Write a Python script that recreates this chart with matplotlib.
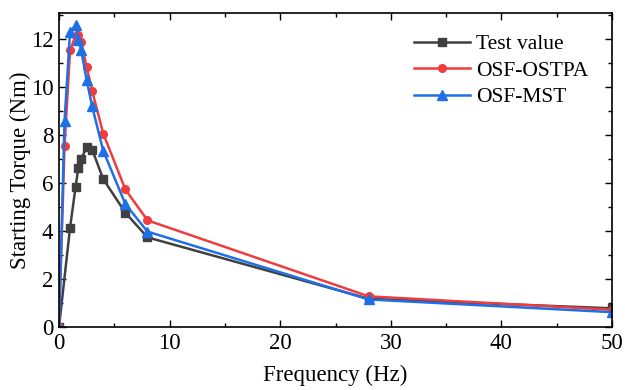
import matplotlib
matplotlib.use('Agg')
import matplotlib.pyplot as plt
from matplotlib.ticker import MultipleLocator

plt.rcParams['font.family'] = ['Liberation Serif', 'DejaVu Serif']
plt.rcParams['mathtext.fontset'] = 'stix'

# data
freq_test = [0, 1, 1.5, 1.75, 2, 2.5, 3, 4, 6, 8, 28, 50]
torque_test = [0, 4.14, 5.85, 6.64, 6.99, 7.51, 7.40, 6.17, 4.77, 3.74, 1.18, 0.78]

freq_sim = [0, 0.5, 1, 1.5, 1.75, 2, 2.5, 3, 4, 6, 8, 28, 50]
torque_ostpa = [0, 7.55, 11.54, 12.15, 12.2, 11.9, 10.85, 9.85, 8.07, 5.74, 4.45, 1.28, 0.72]
torque_mst = [0, 8.58, 12.32, 12.58, 11.98, 11.56, 10.3, 9.2, 7.35, 5.13, 3.98, 1.15, 0.62]

fig = plt.figure(figsize=(6.25, 3.9), dpi=100)
ax = fig.add_axes([0.0944, 0.1615, 0.8848, 0.8052])

ax.plot(freq_test, torque_test, color='#404040', marker='s', markersize=5.5,
        linewidth=1.8, label='Test value')
ax.plot(freq_sim, torque_ostpa, color='#f03c3c', marker='o', markersize=5.5,
        linewidth=1.8, label='OSF-OSTPA')
ax.plot(freq_sim, torque_mst, color='#1f6fe6', marker='^', markersize=6.5,
        linewidth=1.8, label='OSF-MST')

ax.set_xlim(0, 50)
ax.set_ylim(0, 13.1)
ax.xaxis.set_major_locator(MultipleLocator(10))
ax.xaxis.set_minor_locator(MultipleLocator(5))
ax.yaxis.set_major_locator(MultipleLocator(2))
ax.yaxis.set_minor_locator(MultipleLocator(1))
ax.tick_params(which='both', direction='in', top=True, right=True, labelsize=16.5)
ax.tick_params(which='major', length=5, width=1, pad=4)
ax.tick_params(which='minor', length=3, width=1)
for s in ax.spines.values():
    s.set_linewidth(1.2)

ax.set_xlabel('Frequency (Hz)', fontsize=16.5, labelpad=8)
ax.set_ylabel('Starting Torque (Nm)', fontsize=16.5, labelpad=0)

ax.legend(loc='upper right', frameon=False, fontsize=15.5, handlelength=2.6,
          handletextpad=0.3, labelspacing=0.3, borderaxespad=0.3,
          bbox_to_anchor=(0.985, 0.98))

fig.savefig('out.png', dpi=100)
